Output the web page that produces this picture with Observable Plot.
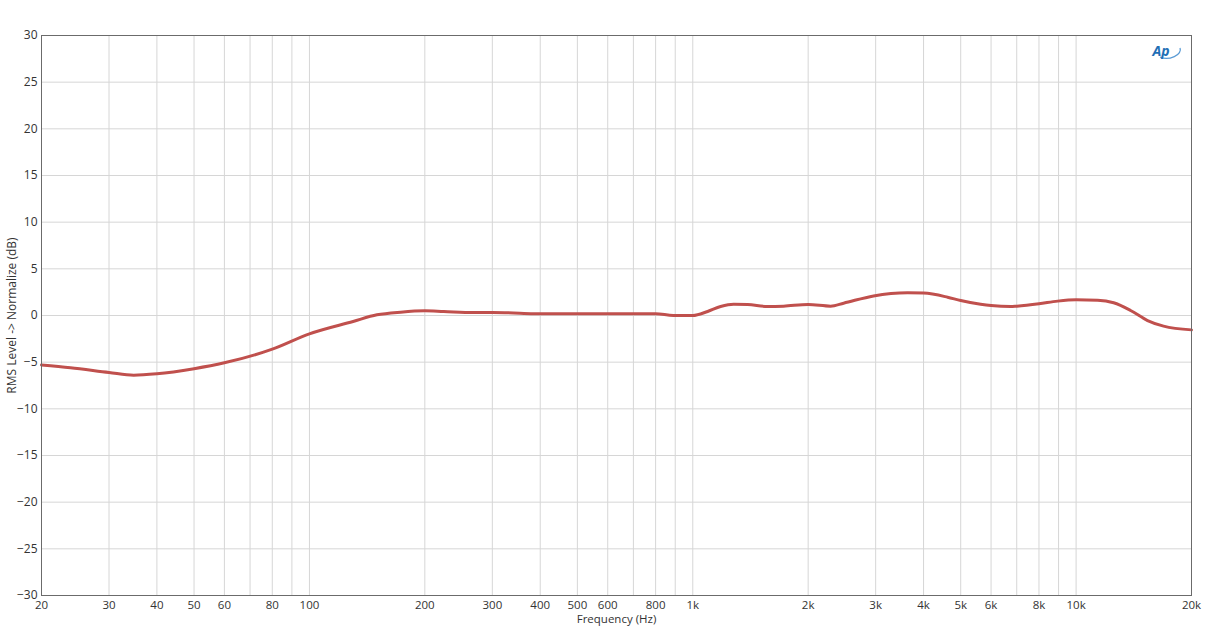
<!DOCTYPE html>
<html>
<head>
<meta charset="utf-8">
<script src="https://cdn.jsdelivr.net/npm/d3@7"></script>
<script src="https://cdn.jsdelivr.net/npm/@observablehq/plot@0.6"></script>
<style>
  html, body { margin: 0; padding: 0; background: #fff; }
  #chart svg { display: block; }
</style>
</head>
<body>
<div id="chart"></div>
<script>
// Frequency response data
const freqHz = [20, 23.8, 30, 34.8, 40, 50, 60, 80, 100, 130, 150, 173, 200, 224, 268, 300, 384, 400, 500, 600, 800, 890, 1000, 1093, 1182, 1278, 1390, 1567, 1726, 2000, 2289, 2475, 2962, 3634, 4000, 4621, 5000, 5636, 6000, 6750, 7000, 8000, 8950, 10000, 11380, 12530, 13870, 15360, 16910, 20000];
const levelDb = [-5.3, -5.6, -6.1, -6.4, -6.25, -5.7, -5.07, -3.6, -1.96, -0.64, 0.07, 0.36, 0.5, 0.43, 0.32, 0.32, 0.2, 0.18, 0.18, 0.18, 0.2, 0.0, 0.0, 0.43, 0.96, 1.21, 1.18, 0.96, 1.0, 1.18, 1.0, 1.32, 2.1, 2.43, 2.4, 1.96, 1.6, 1.21, 1.07, 0.96, 1.0, 1.25, 1.54, 1.68, 1.64, 1.36, 0.54, -0.54, -1.14, -1.54];

const gridFreqs = [20,30,40,50,60,70,80,90,100,200,300,400,500,600,700,800,900,1000,2000,3000,4000,5000,6000,7000,8000,9000,10000,20000];
const labelFreqs = [20,30,40,50,60,80,100,200,300,400,500,600,800,1000,2000,3000,4000,5000,6000,8000,10000,20000];
const labelTexts = ["20","30","40","50","60","80","100","200","300","400","500","600","800","1k","2k","3k","4k","5k","6k","8k","10k","20k"];
const yTicks = [-30,-25,-20,-15,-10,-5,0,5,10,15,20,25,30];

const data = freqHz.map((f, i) => ({f, v: levelDb[i]}));
const xLabels = labelFreqs.map((f, i) => ({f, t: labelTexts[i]}));

// swoosh ellipse of the logo, drawn relative to the frame corner
function logoSwoosh(index, scales, values, dims) {
  const cx = dims.width - dims.marginRight - 22, cy = dims.marginTop + 16;
  const g = document.createElementNS("http://www.w3.org/2000/svg", "path");
  g.setAttribute("d", `M${cx - 9},${cy + 6} A12,7 -10 0 0 ${cx + 11},${cy - 3}`);
  g.setAttribute("fill", "none");
  g.setAttribute("stroke", "#5a9bd5");
  g.setAttribute("stroke-width", "1.3");
  return g;
}

const chart = Plot.plot({
  width: 1214,
  height: 630,
  marginLeft: 41,
  marginRight: 23,
  marginTop: 35,
  marginBottom: 35,
  style: {fontFamily: "'Open Sans', 'Noto Sans', sans-serif", fontSize: "12px", color: "#333", background: "#fff"},
  x: {type: "log", domain: [20, 20000], axis: null},
  y: {domain: [-30, 30]},
  marks: [
    Plot.ruleX(gridFreqs, {stroke: "#d6d6d6", strokeWidth: 1}),
    Plot.ruleY(yTicks, {stroke: "#d6d6d6", strokeWidth: 1}),
    Plot.text(xLabels, {x: "f", frameAnchor: "bottom", lineAnchor: "middle", dy: 10, text: "t", fill: "#333", fontSize: 11.5}),
    Plot.text(["Frequency (Hz)"], {frameAnchor: "bottom", lineAnchor: "middle", dy: 24, text: d => d, fill: "#333", fontSize: 11.5}),
    Plot.axisY(yTicks, {tickSize: 0, tickPadding: 4, fontSize: 12,
      label: "RMS Level -> Normalize (dB)", labelAnchor: "center", labelArrow: "none", labelOffset: 34}),
    Plot.line(data, {x: "f", y: "v", stroke: "#c0504d", strokeWidth: 3, curve: "monotone-x"}),
    Plot.frame({stroke: "#6b6b6b", strokeWidth: 1}),
    logoSwoosh,
    Plot.text(["Ap"], {frameAnchor: "top-right", lineAnchor: "middle", dx: -22, dy: 16, text: d => d, fill: "#1f6fb5",
      fontStyle: "italic", fontWeight: "bold", fontSize: 14})
  ]
});
document.getElementById("chart").appendChild(chart);
</script>
</body>
</html>
